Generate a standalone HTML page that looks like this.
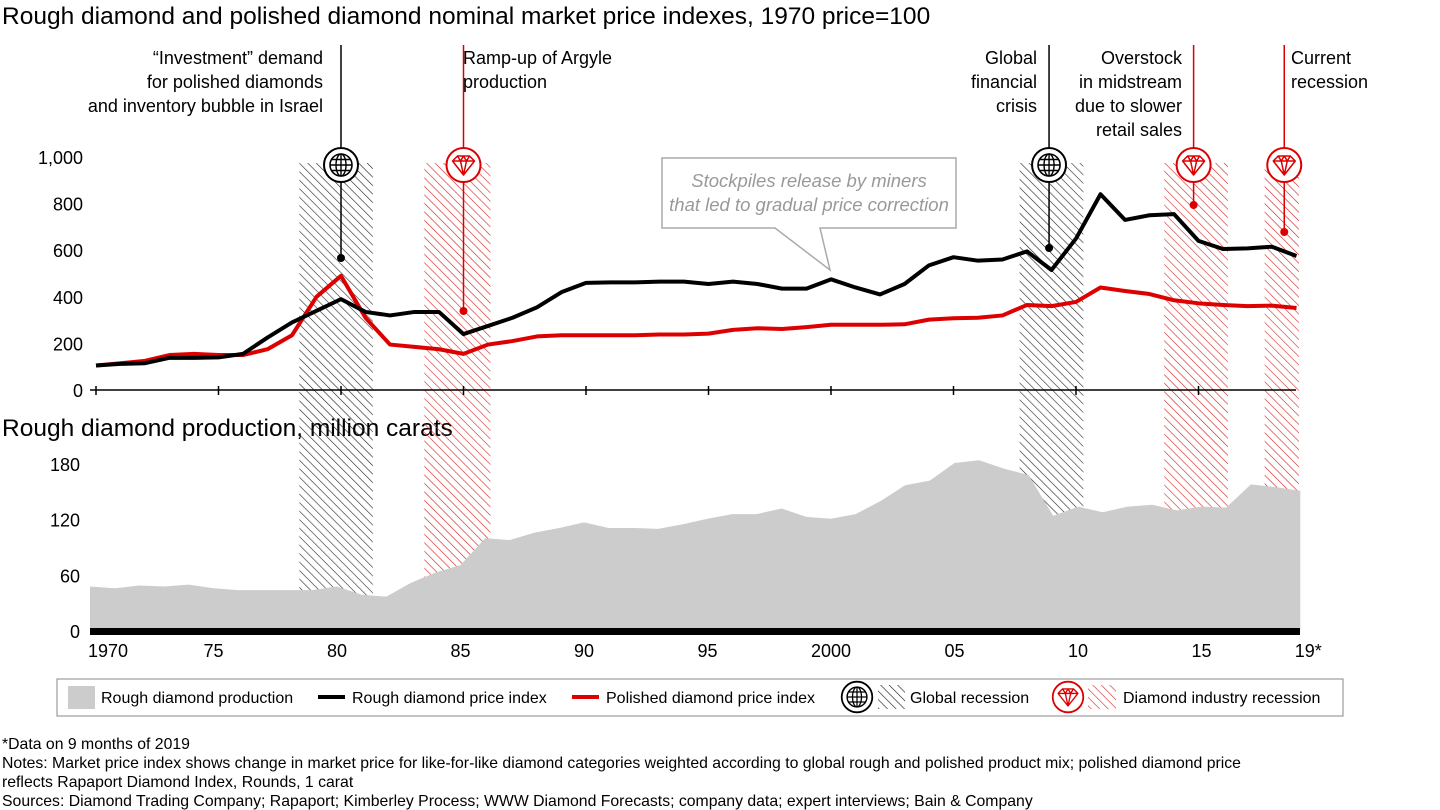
<!DOCTYPE html>
<html><head><meta charset="utf-8">
<style>
body{margin:0;background:#fff;}
svg{display:block;font-family:"Liberation Sans",Arial,sans-serif;}
</style></head>
<body>
<svg id="chart" width="1440" height="810" viewBox="0 0 1440 810" xmlns="http://www.w3.org/2000/svg">
<defs>
<pattern id="hatchK" patternUnits="userSpaceOnUse" width="6" height="6" patternTransform="rotate(-45)">
<line x1="0" y1="0" x2="0" y2="6" stroke="#222" stroke-width="1.2"/></pattern>
<pattern id="hatchR" patternUnits="userSpaceOnUse" width="6" height="6" patternTransform="rotate(-45)">
<line x1="0" y1="0" x2="0" y2="6" stroke="#d42020" stroke-width="1.2"/></pattern>
<g id="globe"><circle r="17" fill="#fff" stroke-width="2"/><circle r="11" fill="none" stroke-width="1.6"/><ellipse rx="5" ry="11" fill="none" stroke-width="1.4"/><line x1="0" y1="-11" x2="0" y2="11" stroke-width="1.4"/><line x1="-11" y1="0" x2="11" y2="0" stroke-width="1.4"/><line x1="-9.5" y1="-5.5" x2="9.5" y2="-5.5" stroke-width="1.4"/><line x1="-9.5" y1="5.5" x2="9.5" y2="5.5" stroke-width="1.4"/></g>
<g id="gem"><circle r="17" fill="#fff" stroke-width="2"/><path d="M-11,-4 L-6,-9 L6,-9 L11,-4 L0,10 Z M-11,-4 L11,-4 M-6,-9 L-3,-4 L0,-9 L3,-4 L6,-9 M-3,-4 L0,10 L3,-4" fill="none" stroke-width="1.5" stroke-linejoin="round"/></g>
</defs>
<text x="2" y="24" font-size="24.5" fill="#000">Rough diamond and polished diamond nominal market price indexes, 1970 price=100</text>
<text x="2" y="436" font-size="24.5" fill="#000">Rough diamond production, million carats</text>
<g id="bands"></g>
<g id="area"></g>
<g id="topg"></g>
<g id="annot" font-size="18">
<text text-anchor="end" x="323"><tspan x="323" y="64">“Investment” demand</tspan><tspan x="323" y="88">for polished diamonds</tspan><tspan x="323" y="112">and inventory bubble in Israel</tspan></text>
<text x="463"><tspan x="463" y="64">Ramp-up of Argyle</tspan><tspan x="463" y="88">production</tspan></text>
<text text-anchor="end"><tspan x="1037" y="64">Global</tspan><tspan x="1037" y="88">financial</tspan><tspan x="1037" y="112">crisis</tspan></text>
<text text-anchor="end"><tspan x="1182" y="64">Overstock</tspan><tspan x="1182" y="88">in midstream</tspan><tspan x="1182" y="112">due to slower</tspan><tspan x="1182" y="136">retail sales</tspan></text>
<text><tspan x="1291" y="64">Current</tspan><tspan x="1291" y="88">recession</tspan></text>
</g>
<g>
<path d="M662,158 H956 V228 H820 L830,270 L775,228 H662 Z" fill="#fff" stroke="#aaa" stroke-width="1.5"/>
<text x="809" y="187" text-anchor="middle" font-size="18.5" font-style="italic" fill="#999">Stockpiles release by miners</text>
<text x="809" y="211" text-anchor="middle" font-size="18.5" font-style="italic" fill="#999">that led to gradual price correction</text>
</g>
<g font-size="16">
<rect x="57" y="679" width="1286" height="37" fill="#fff" stroke="#888" stroke-width="1"/>
<rect x="68" y="686" width="27" height="23" fill="#ccc"/>
<text x="101" y="703">Rough diamond production</text>
<line x1="318" y1="697" x2="345" y2="697" stroke="#000" stroke-width="4"/>
<text x="352" y="703">Rough diamond price index</text>
<line x1="572" y1="697" x2="599" y2="697" stroke="#d00" stroke-width="4"/>
<text x="606" y="703">Polished diamond price index</text>
<use href="#globe" stroke="#000" transform="translate(857,697) scale(0.9)"/>
<rect x="878" y="685" width="27" height="24" fill="url(#hatchK)"/>
<text x="910" y="703">Global recession</text>
<use href="#gem" stroke="#d00" transform="translate(1068,697) scale(0.9)"/>
<rect x="1088" y="685" width="28" height="24" fill="url(#hatchR)"/>
<text x="1123" y="703">Diamond industry recession</text>
</g>
<g font-size="15.8">
<text x="2" y="749">*Data on 9 months of 2019</text>
<text x="2" y="768">Notes: Market price index shows change in market price for like-for-like diamond categories weighted according to global rough and polished product mix; polished diamond price</text>
<text x="2" y="787">reflects Rapaport Diamond Index, Rounds, 1 carat</text>
<text x="2" y="806">Sources: Diamond Trading Company; Rapaport; Kimberley Process; WWW Diamond Forecasts; company data; expert interviews; Bain &amp; Company</text>
</g>
</svg>
<script>
const years=[];for(let y=1970;y<=2019;y++)years.push(y);
const roughPrice=[105,112,115,138,138,140,155,225,290,340,390,335,320,335,335,240,275,310,355,420,460,462,462,465,465,455,465,455,435,435,475,440,410,455,535,570,555,560,595,515,650,840,730,750,755,640,605,608,615,575];
const polishedPrice=[105,115,125,150,155,150,150,175,235,400,490,310,195,185,175,155,195,210,230,235,235,235,235,238,238,242,258,265,262,270,280,280,280,282,302,308,310,320,365,360,378,440,425,412,385,372,365,360,362,352];
const production=[48,46,49,48,50,46,44,44,44,44,48,39,37,52,63,71,100,98,106,111,117,111,111,110,115,121,126,126,132,123,121,126,140,157,162,181,184,175,168,124,134,128,134,136,130,134,133,158,155,151];
const priceTicks=[0,200,400,600,800,1000];
const priceTickLabels=["0","200","400","600","800","1,000"];
const prodTicks=[0,60,120,180];
const yearTicks=[1970,1975,1980,1985,1990,1995,2000,2005,2010,2015,2019];
const yearTickLabels=["1970","75","80","85","90","95","2000","05","10","15","19*"];
const globalRecessions=[[1978.3,1981.3],[2007.7,2010.3]];
const industryRecessions=[[1983.4,1986.1],[2013.6,2016.2],[2017.7,2019.1]];
const events=[{yr:1980,type:'globe',dot:258},{yr:1985,type:'gem',dot:311},{yr:2008.9,type:'globe',dot:248},{yr:2014.8,type:'gem',dot:205},{yr:2018.5,type:'gem',dot:232}];

const NS='http://www.w3.org/2000/svg';
const xT=y=>96+(y-1970)*24.5;
const yT=v=>390-v*0.233;
const xB=y=>90+(y-1970)*24.7;
const yB=v=>631-v*0.928;
function mk(tag,attrs,parent){const e=document.createElementNS(NS,tag);for(const k in attrs)e.setAttribute(k,attrs[k]);parent.appendChild(e);return e;}
const bandsG=document.getElementById('bands'),areaG=document.getElementById('area'),topG=document.getElementById('topg');

globalRecessions.forEach(r=>{const e=mk('rect',{x:xT(r[0]),y:163,width:xT(r[1])-xT(r[0]),height:468,fill:'url(#hatchK)'},bandsG);

});
industryRecessions.forEach(r=>{const e=mk('rect',{x:xT(r[0]),y:163,width:xT(r[1])-xT(r[0]),height:468,fill:'url(#hatchR)'},bandsG);

});

let d='M'+xB(years[0])+','+yB(0);
years.forEach((y,i)=>{d+=' L'+xB(y)+','+yB(production[i]);});
d+=' L'+xB(years[years.length-1])+','+yB(0)+' Z';
const ar=mk('path',{d:d,fill:'#ccc'},areaG);


const base=mk('rect',{x:90,y:628,width:1210,height:7,fill:'#000'},areaG);


prodTicks.forEach(v=>{const t=mk('text',{x:80,y:yB(v)+7,'text-anchor':'end','font-size':18},areaG);t.textContent=v;

});
yearTicks.forEach((y,i)=>{const t=mk('text',{x:xB(y)+(i==0?18:(i==yearTicks.length-1?8:0)),y:657,'text-anchor':'middle','font-size':18},areaG);t.textContent=yearTickLabels[i];

});

const ax=mk('line',{x1:90,y1:390,x2:1296,y2:390,stroke:'#000','stroke-width':1.5},topG);


yearTicks.slice(0,10).forEach(y=>{const t=mk('line',{x1:xT(y),y1:386,x2:xT(y),y2:395,stroke:'#000','stroke-width':1.5},topG);

});
priceTicks.forEach((v,i)=>{const t=mk('text',{x:83,y:yT(v)+7,'text-anchor':'end','font-size':18},topG);t.textContent=priceTickLabels[i];

});
function drawLine(vals,color,name){const p=mk('polyline',{points:years.map((y,i)=>xT(y)+','+yT(vals[i])).join(' '),fill:'none',stroke:color,'stroke-width':4,'stroke-linejoin':'round'},topG);

}
drawLine(polishedPrice,'#d00','polished-price-line');
drawLine(roughPrice,'#000','rough-price-line');

events.forEach(ev=>{const c=ev.type=='globe'?'#000':'#d00';const x=xT(ev.yr);
const l=mk('line',{x1:x,y1:45,x2:x,y2:ev.dot,stroke:c,'stroke-width':1.5},topG);


const dt=mk('circle',{cx:x,cy:ev.dot,r:4,fill:c},topG);


const u=mk('use',{href:'#'+ev.type,transform:'translate('+x+',165)',stroke:c},topG);

});
</script>
</body></html>
